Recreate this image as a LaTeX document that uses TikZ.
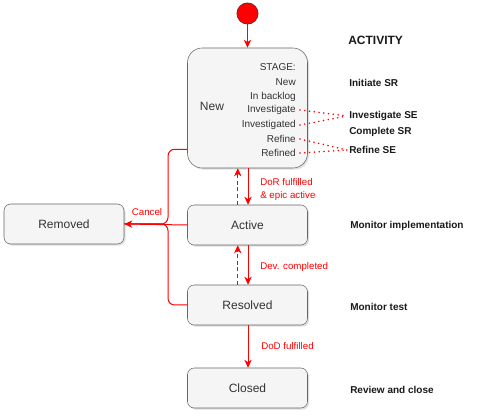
\documentclass[tikz,border=0pt]{standalone}
\usepackage{fontspec}
\setmainfont{Liberation Sans}
\usetikzlibrary{shadows,arrows.meta}
\definecolor{boxfill}{HTML}{F5F5F5}
\definecolor{boxline}{HTML}{666666}
\definecolor{boxtext}{HTML}{333333}
\definecolor{linkred}{HTML}{FF0000}
\tikzset{
  state/.style={draw=boxline, fill=boxfill, text=boxtext, rounded corners=5pt,
    minimum width=90pt, minimum height=30pt, font=\fontsize{9}{10}\selectfont,
    drop shadow={shadow xshift=1.2pt, shadow yshift=-1.2pt, opacity=0.25}},
  stage/.style={anchor=east, inner sep=0pt, text=boxtext, font=\fontsize{7.5}{8}\selectfont},
  activity/.style={anchor=west, inner sep=0pt, text=black!90, font=\bfseries\fontsize{7.5}{8}\selectfont},
  trans/.style={anchor=west, inner sep=0pt, text=linkred, font=\fontsize{7.3}{8}\selectfont},
  flow/.style={color=linkred, line width=0.75pt, ->},
  dashbit/.style={color=linkred, line width=0.75pt},
  link/.style={color=linkred, line width=1.3pt, line cap=round, dash pattern=on 0pt off 3.6pt}
}
\begin{document}
\begin{tikzpicture}[x=0.75pt,y=-0.75pt,>={Stealth[length=6pt,width=5.5pt,inset=1.8pt]}]
\useasboundingbox (0,0) rectangle (478,416);
% states
\node[circle, draw=black!80, fill=linkred, minimum size=16pt, inner sep=0pt] (start) at (247.5,13.5) {};
\node[state, minimum height=90pt, rounded corners=11pt] (new) at (247.5,108) {};
\node[text=boxtext, font=\fontsize{9}{10}\selectfont] (newlbl) at (212,106) {New};
\node[stage] (stg) at (296,67) {STAGE:};
\node[stage] (stnew) at (296,82) {New};
\node[stage] (backlog) at (296,97) {In backlog};
\node[stage] (inv) at (296,110) {Investigate};
\node[stage] (invd) at (296,125) {Investigated};
\node[stage] (ref) at (296,139) {Refine};
\node[stage] (refd) at (296,153) {Refined};
\node[state] (active) at (247.5,225) {Active};
\node[state] (resolved) at (247.5,305) {Resolved};
\node[state] (closed) at (247.5,388) {Closed};
\node[state] (removed) at (64,224) {Removed};
% activities
\node[activity, font=\bfseries\fontsize{9}{10}\selectfont] (acthead) at (348,40) {ACTIVITY};
\node[activity] (initsr) at (349,83) {Initiate SR};
\node[activity] (invse) at (349,116) {Investigate SE};
\node[activity] (compsr) at (349,132) {Complete SR};
\node[activity] (refse) at (349,150) {Refine SE};
\node[activity] (monimp) at (350,226) {Monitor implementation};
\node[activity] (montest) at (350,307) {Monitor test};
\node[activity] (review) at (350,390) {Review and close};
% transition labels
\node[trans] (dor) at (260,182) {DoR fulfilled};
\node[trans] (epic) at (260,196) {\& epic active};
\node[trans] (dev) at (260,267) {Dev. completed};
\node[trans] (dod) at (261,346) {DoD fulfilled};
\node[trans, anchor=center] (cancel) at (147,212) {Cancel};
% transitions
\draw[flow] (start.south) -- (start.south |- new.north);
\draw[flow] ([xshift=0.4pt]new.south) -- ([xshift=0.4pt]active.north);
\draw[flow] ([xshift=0.4pt]active.south) -- ([xshift=0.4pt]resolved.north);
\draw[flow] ([xshift=0.4pt]resolved.south) -- ([xshift=0.4pt]closed.north);
% way back, one dash at a time
\foreach \d in {0,5,10,15}
  \draw[dashbit] ([xshift=-7.3pt,yshift=\d pt]active.north) -- ([xshift=-7.3pt,yshift={\d pt+3pt}]active.north);
\draw[flow] ([xshift=-7.3pt,yshift=20pt]active.north) -- ([xshift=-7.3pt]new.south);
\foreach \d in {0,5,10,15,20}
  \draw[dashbit] ([xshift=-7.3pt,yshift=\d pt]resolved.north) -- ([xshift=-7.3pt,yshift={\d pt+3pt}]resolved.north);
\draw[flow] ([xshift=-7.3pt,yshift=25pt]resolved.north) -- ([xshift=-7.3pt]active.south);
% cancel
\coordinate (junc) at (168,224);
\draw[color=linkred, line width=0.75pt, rounded corners=5pt] ([yshift=14.25pt]new.south west) -| (junc) -- (removed.east);
\draw[color=linkred, line width=0.75pt, rounded corners=5pt] (resolved.west) -| (junc) -- (removed.east);
\draw[flow] (active.west) -- (removed.east);
% stage to activity
\draw[link] ([xshift=3pt]inv.east) -- ([xshift=-1.5pt]invse.west);
\draw[link] ([xshift=3pt]invd.east) -- ([xshift=-1.5pt]invse.west);
\draw[link] ([xshift=3pt]ref.east) -- ([xshift=-1.5pt]refse.west);
\draw[link] ([xshift=3pt]refd.east) -- ([xshift=-1.5pt]refse.west);
\end{tikzpicture}
\end{document}
